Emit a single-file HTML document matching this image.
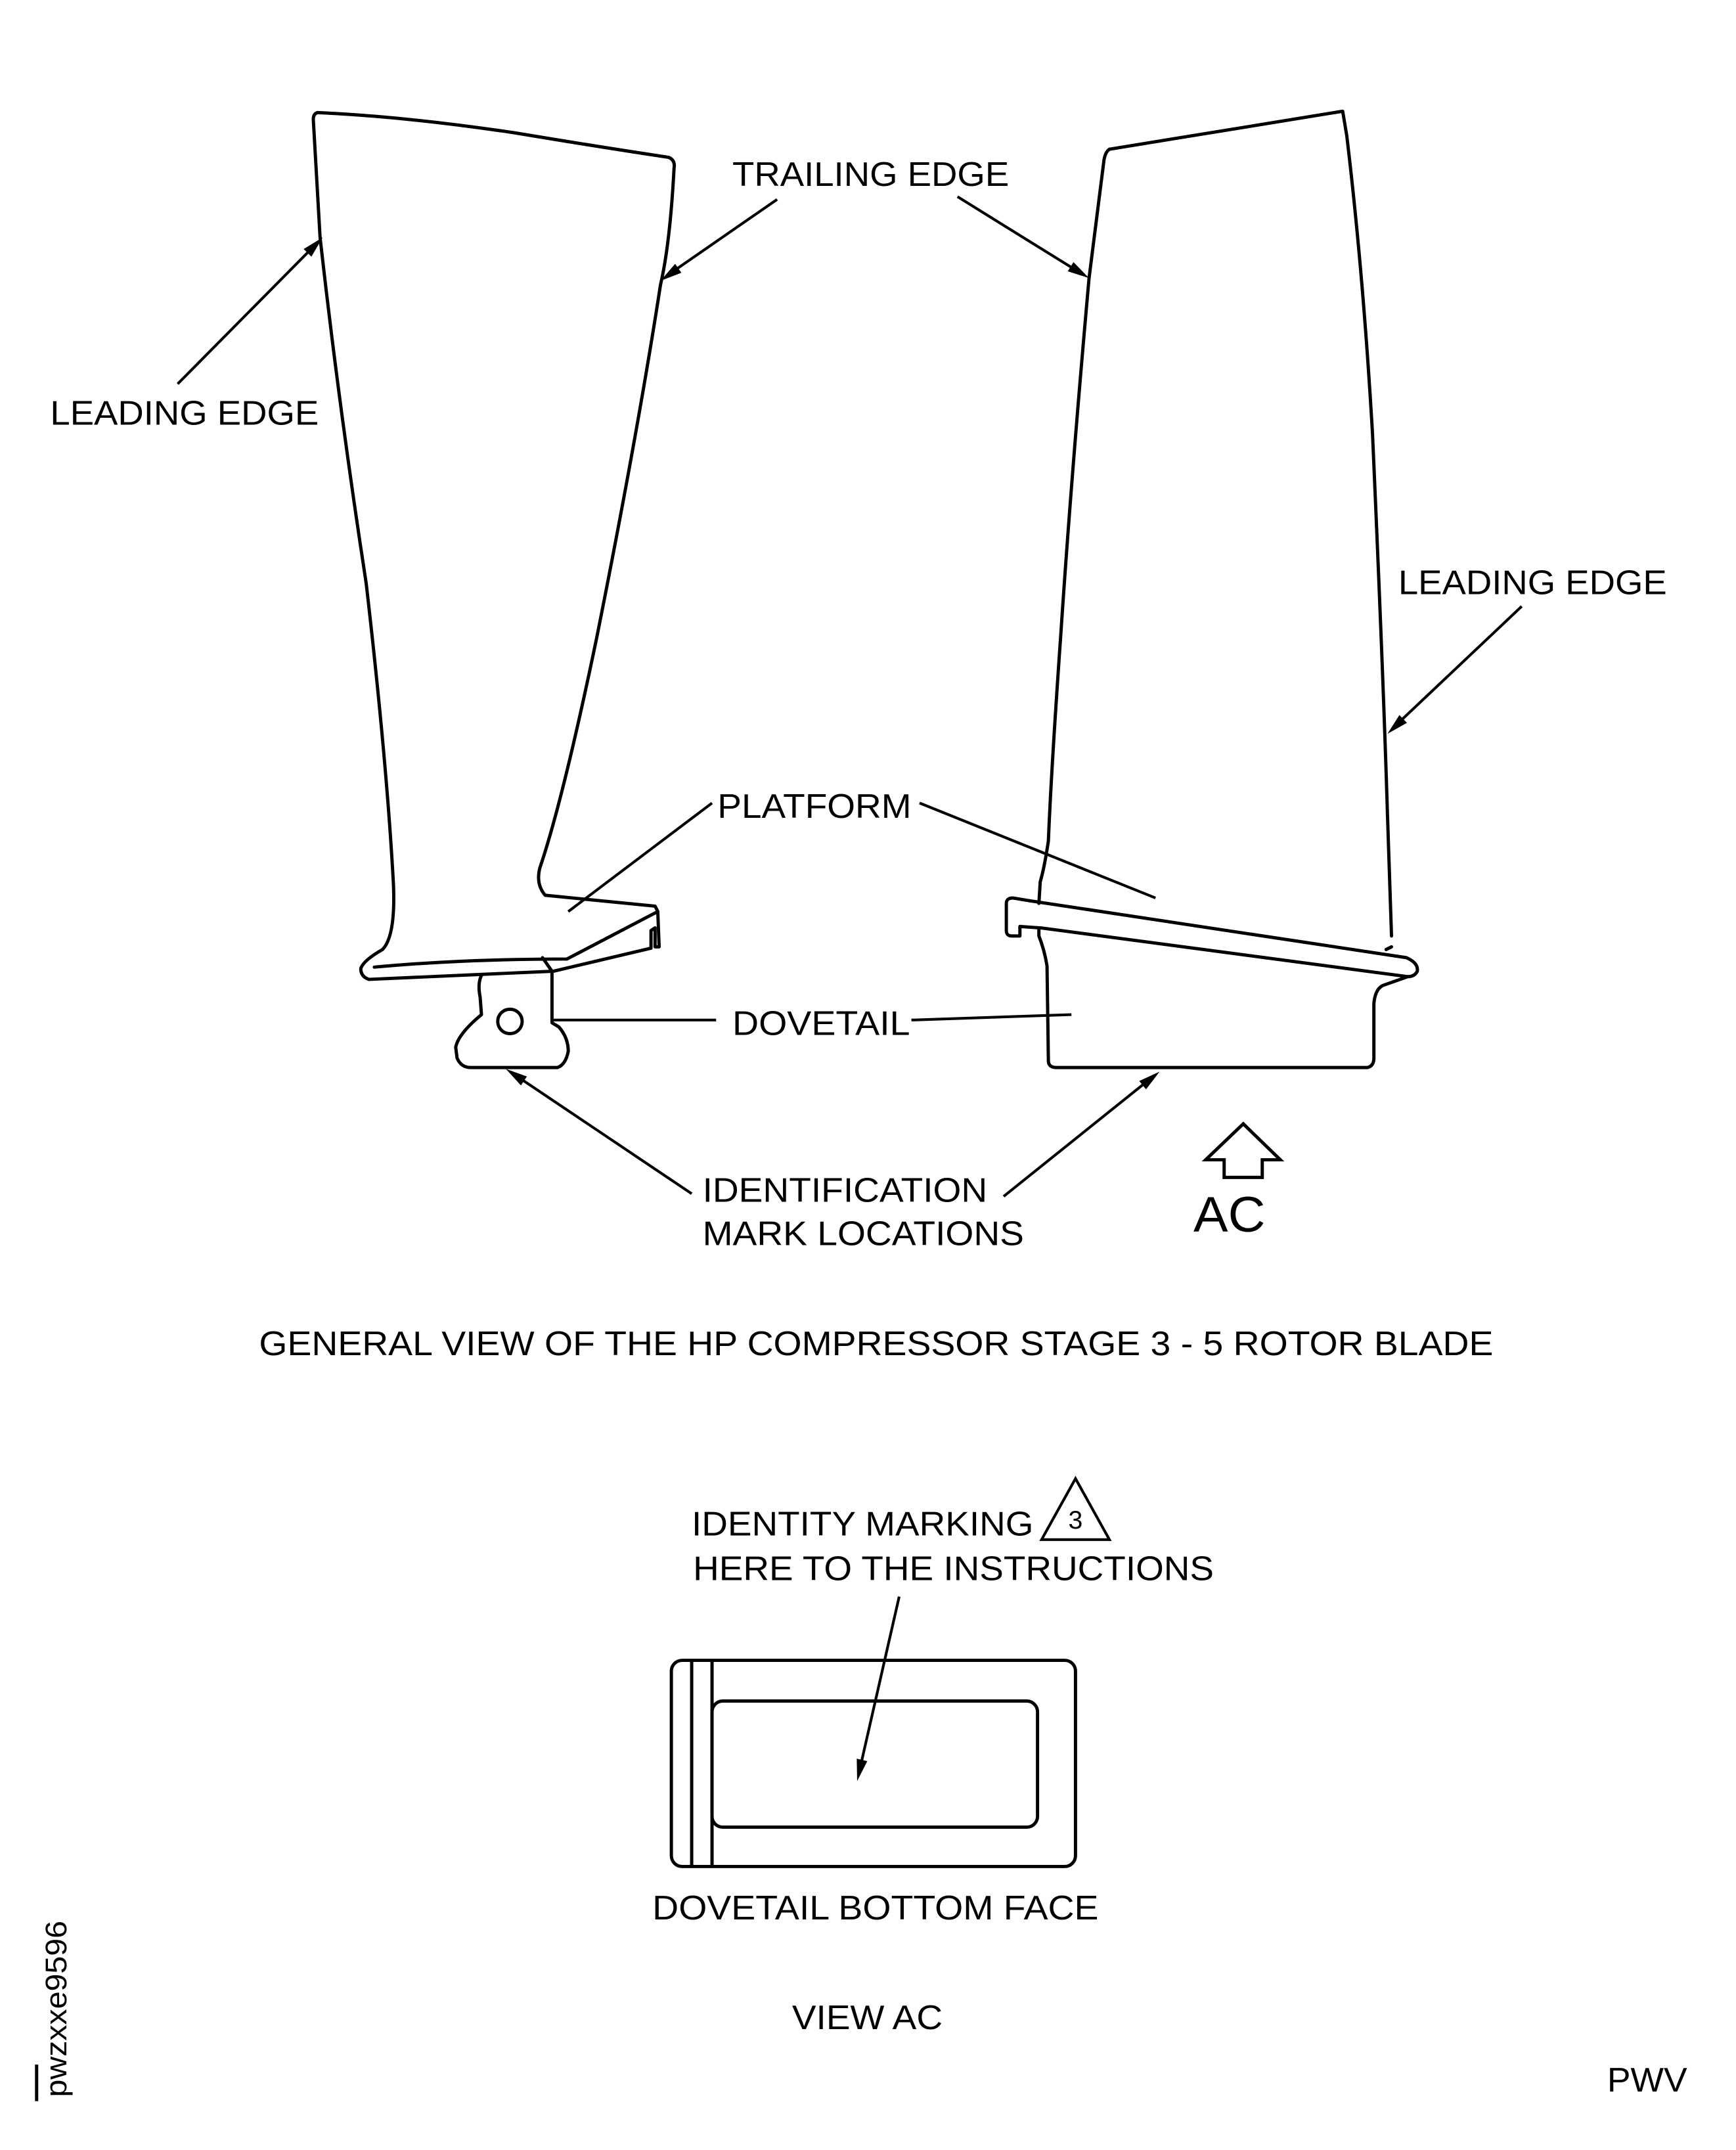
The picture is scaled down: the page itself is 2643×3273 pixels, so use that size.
<!DOCTYPE html>
<html><head><meta charset="utf-8"><style>
html,body{margin:0;padding:0;background:#fff;}
svg{display:block;}
text{font-family:"Liberation Sans",Arial,sans-serif;fill:#000;}
</style></head><body>
<svg width="2643" height="3273" viewBox="0 0 1280 1585" preserveAspectRatio="none" xmlns="http://www.w3.org/2000/svg">
<g fill="none" stroke="#000" stroke-width="2.4" stroke-linejoin="round" stroke-linecap="round">
<!-- LEFT BLADE -->
<path d="M234,83 Q300,86 380,98 Q440,108 493,116 Q498,118 497,124 Q494,180 487,210 Q470,320 440,470 Q415,590 398,640 Q395,652 402,660 L483,668 L485,672"/>
<path d="M234,83 Q231,84 231,88 L236,175 Q250,300 270,430 Q285,560 290,650 Q292,690 282,700 Q268,708 266,714 Q266,720 272,722"/>
<path d="M276,713 Q340,707 418,707 L485,672 L486,698 L483,698 L483,684 L480,686 L480,699 L408,716 L272,722"/>
<path d="M400,706 L407,716"/>
<path d="M355,719 Q352,725 354,735 L355,748 Q338,762 336,772 L337,780 Q340,787 347,787 L411,787 Q417,785 419,775 Q419,765 412,757 L407,754 L407,716"/>
<circle cx="376" cy="753" r="9"/>

<!-- RIGHT BLADE -->
<path d="M818,110 Q815,112 814,118 L803,205 Q790,350 782,470 Q775,570 773,620 Q770,640 767,650 L766,666"/>
<path d="M818,110 L990,82 L993,100 Q1005,200 1012,320 Q1020,500 1023,600 L1026,690"/>
<path d="M759,664 L747,662 Q742,662 742,666 L742,686 Q742,690 746,690 L752,690 L752,683 L766,684"/>
<path d="M759,664 L1037,706 Q1046,710 1045,716 Q1043,720 1038,720 L767,684"/>
<path d="M766,684 L766,690 Q770,700 772,712 L773,782 Q773,787 779,787 L1008,787 Q1013,786 1013,780 L1013,740 Q1014,728 1021,726 L1038,720"/>
<path d="M1022,700 L1026,698"/>
</g>

<!-- leaders -->
<g fill="none" stroke="#000" stroke-width="2">
<line x1="131" y1="283" x2="230" y2="183"/>
<line x1="573" y1="147" x2="495" y2="201"/>
<line x1="706" y1="145" x2="793" y2="199"/>
<line x1="1122" y1="447" x2="1031" y2="533"/>
<path d="M525,592 L419,672"/>
<path d="M678,592 L852,662"/>
<path d="M407,752 L528,752"/>
<path d="M672,752 L790,748"/>
<line x1="510" y1="880" x2="382" y2="794"/>
<line x1="740" y1="882" x2="846" y2="797"/>
<path d="M916.7,828.5 L944,855 L930.7,855 L930.7,868 L902.6,868 L902.6,855 L889,855 Z" stroke-width="2.4"/>
<line x1="663" y1="1177" x2="634" y2="1304"/>
<rect x="495" y="1224" width="298" height="152" rx="8" stroke-width="2.4"/>
<line x1="510" y1="1224" x2="510" y2="1376" stroke-width="2.4"/>
<line x1="525" y1="1224" x2="525" y2="1376" stroke-width="2.4"/>
<rect x="525" y="1254" width="240" height="93" rx="8" stroke-width="2.4"/>
<path d="M793,1090 L768,1135 L818,1135 Z"/>
<line x1="27" y1="1522" x2="27" y2="1549" stroke-width="2.4"/>
</g>
<g fill="#000" stroke="none">
<polygon points="238,175 229.6,189.2 223.9,183.6"/>
<polygon points="487,207 497.8,194.5 502.4,201.1"/>
<polygon points="803,205 787.3,200 791.5,193.2"/>
<polygon points="1023,541 1031.8,527.1 1037.4,532.9"/>
<polygon points="373,788 388.5,793.6 384.1,800.2"/>
<polygon points="855,790 845,803.1 840,796.9"/>
<polygon points="632,1313 631.7,1296.5 639.5,1298.3"/>
</g>

<g font-size="25">
<text x="37" y="313" textLength="198" lengthAdjust="spacingAndGlyphs">LEADING EDGE</text>
<text x="540" y="137" textLength="204" lengthAdjust="spacingAndGlyphs">TRAILING EDGE</text>
<text x="1031" y="438" textLength="198" lengthAdjust="spacingAndGlyphs">LEADING EDGE</text>
<text x="529" y="603" textLength="143" lengthAdjust="spacingAndGlyphs">PLATFORM</text>
<text x="540" y="763" textLength="131" lengthAdjust="spacingAndGlyphs">DOVETAIL</text>
<text x="518" y="886" textLength="210" lengthAdjust="spacingAndGlyphs">IDENTIFICATION</text>
<text x="518" y="918" textLength="237" lengthAdjust="spacingAndGlyphs">MARK LOCATIONS</text>
<text x="191" y="999" textLength="910" lengthAdjust="spacingAndGlyphs">GENERAL VIEW OF THE HP COMPRESSOR STAGE 3 - 5 ROTOR BLADE</text>
<text x="510" y="1132" textLength="252" lengthAdjust="spacingAndGlyphs">IDENTITY MARKING</text>
<text x="511" y="1165" textLength="384" lengthAdjust="spacingAndGlyphs">HERE TO THE INSTRUCTIONS</text>
<text x="481" y="1415" textLength="329" lengthAdjust="spacingAndGlyphs">DOVETAIL BOTTOM FACE</text>
<text x="584" y="1496" textLength="111" lengthAdjust="spacingAndGlyphs">VIEW AC</text>
<text x="1185" y="1542" textLength="59" lengthAdjust="spacingAndGlyphs">PWV</text>
</g>
<text x="880" y="908" font-size="37" textLength="53" lengthAdjust="spacingAndGlyphs">AC</text>
<text x="793" y="1127" font-size="19" text-anchor="middle">3</text>
<text transform="translate(49,1546) rotate(-90)" font-size="22" textLength="130" lengthAdjust="spacingAndGlyphs">pwzxxe9596</text>
</svg>
</body></html>
